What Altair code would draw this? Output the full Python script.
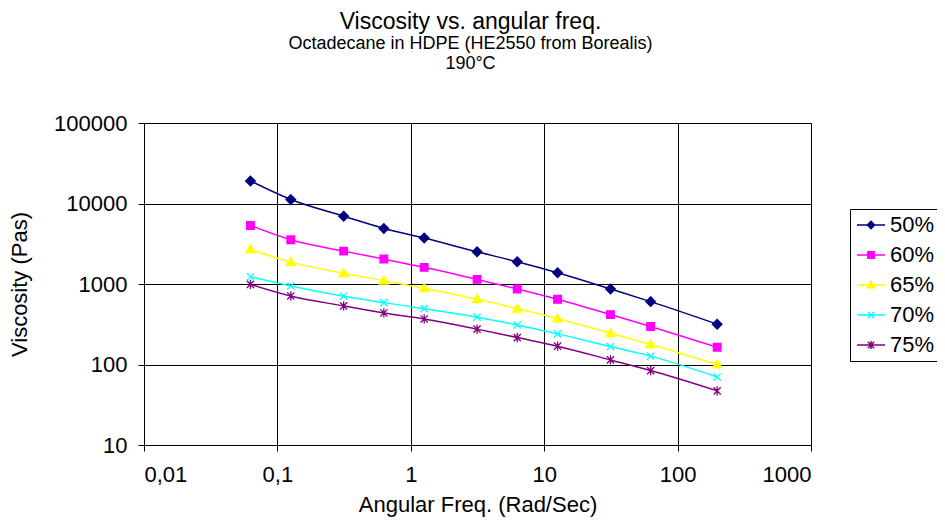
import altair as alt
import pandas as pd

# ---- data ----
freq = [0.0628, 0.126, 0.314, 0.628, 1.26, 3.14, 6.28, 12.6, 31.4, 62.8, 198]
series = ["50%", "60%", "65%", "70%", "75%"]
visc_50 = [19050, 11200, 6960, 4900, 3720, 2510, 1890, 1380, 867, 604, 317]
visc_60 = [5340, 3540, 2560, 2040, 1610, 1140, 867, 646, 417, 296, 164]
visc_65 = [2690, 1870, 1360, 1100, 885, 646, 494, 372, 245, 177, 100]
visc_70 = [1230, 944, 705, 587, 494, 387, 310, 240, 167, 127, 70]
visc_75 = [991, 710, 534, 437, 368, 275, 216, 169, 114, 84, 47]
x_ticks = [0.01, 0.1, 1, 10, 100, 1000]
y_ticks = [10, 100, 1000, 10000, 100000]

colors = ["#000080", "#FF00FF", "#FFFF00", "#00FFFF", "#800080"]
marker_paths = [
    "M0,-1.2L1.2,0L0,1.2L-1.2,0Z",
    "M-0.95,-0.95L0.95,-0.95L0.95,0.95L-0.95,0.95Z",
    "M0,-1.15L1.15,0.85L-1.15,0.85Z",
    "M-0.9,-0.9L0.9,0.9M-0.9,0.9L0.9,-0.9",
    "M-0.9,-0.9L0.9,0.9M-0.9,0.9L0.9,-0.9M0,-1.15L0,1.15",
]
legend_paths = [
    "M-2.25,0L4.75,0M1.25,-0.9L2.15,0L1.25,0.9L0.35,0Z",
    "M-2.25,0L4.75,0M0.45,-0.8L2.05,-0.8L2.05,0.8L0.45,0.8Z",
    "M-2.25,0L4.75,0M1.25,-1L2.2,0.7L0.3,0.7Z",
    "M-2.25,0L4.75,0M0.45,-0.8L2.05,0.8M0.45,0.8L2.05,-0.8",
    "M-2.25,0L4.75,0M0.45,-0.8L2.05,0.8M0.45,0.8L2.05,-0.8M1.25,-1L1.25,1",
]

rows = []
for s, vals in zip(series, [visc_50, visc_60, visc_65, visc_70, visc_75]):
    for f, v in zip(freq, vals):
        rows.append({"freq": f, "visc": v, "series": s})
df = pd.DataFrame(rows)

FONT = "Liberation Sans"

x_enc = alt.X(
    "freq:Q",
    scale=alt.Scale(type="log", domain=[0.01, 1000], nice=False),
    axis=alt.Axis(
        values=x_ticks,
        title="Angular Freq. (Rad/Sec)",
        labelExpr="replace(toString(datum.value), '.', ',')",
    ),
)
y_enc = alt.Y(
    "visc:Q",
    scale=alt.Scale(type="log", domain=[10, 100000], nice=False),
    axis=alt.Axis(values=y_ticks, title="Viscosity (Pas)", format="d"),
)

col_scale = alt.Scale(domain=series, range=colors)

lines = alt.Chart(df).mark_line(strokeWidth=1.5, interpolate="monotone").encode(
    x=x_enc,
    y=y_enc,
    stroke=alt.Stroke("series:N", scale=col_scale, legend=None),
    detail="series:N",
)

points = alt.Chart(df).mark_point(filled=True, size=64, strokeWidth=1.3, opacity=1).encode(
    x=x_enc,
    y=y_enc,
    fill=alt.Fill("series:N", scale=col_scale, legend=None),
    stroke=alt.Stroke("series:N", scale=col_scale, legend=None),
    shape=alt.Shape("series:N", scale=alt.Scale(domain=series, range=marker_paths), legend=None),
)

leg = dict(
    title=None,
    orient="none",
    legendX=706,
    legendY=86,
    symbolSize=64,
    symbolStrokeWidth=1.5,
    labelOffset=13,
    labelFontSize=22,
    labelFont=FONT,
    labelColor="black",
    strokeColor="black",
    fillColor="white",
    padding=5,
    rowPadding=8,
)

legend_layer = alt.Chart(df).transform_filter("false").mark_point(filled=True, opacity=1).encode(
    fill=alt.Fill("series:N", scale=col_scale, legend=alt.Legend(**leg)),
    stroke=alt.Stroke("series:N", scale=col_scale, legend=alt.Legend(**leg)),
    shape=alt.Shape("series:N", scale=alt.Scale(domain=series, range=legend_paths), legend=alt.Legend(**leg)),
)

chart = (
    alt.layer(lines, points, legend_layer)
    .resolve_scale(fill="independent", stroke="independent", shape="independent")
    .properties(
        width=667,
        height=322,
        autosize=alt.AutoSizeParams(type="none"),
        padding={"left": 136, "top": 115, "right": 126, "bottom": 72},
        title=alt.Title(
            "Viscosity vs. angular freq.",
            subtitle=["Octadecane in HDPE (HE2550 from Borealis)", "190°C"],
            anchor="middle",
            frame="group",
            dx=-7,
            offset=39,
            font=FONT,
            fontSize=23,
            fontWeight="normal",
            color="black",
            subtitleFont=FONT,
            subtitleFontSize=18,
            subtitleColor="black",
            subtitlePadding=1,
        ),
    )
    .configure_view(stroke="black", strokeWidth=1)
    .configure_axis(
        labelFont=FONT,
        labelFontSize=22,
        labelColor="black",
        titleFont=FONT,
        titleFontSize=22,
        titleFontWeight="normal",
        titleColor="black",
        domainColor="black",
        tickColor="black",
        gridColor="black",
        gridWidth=1,
        grid=True,
        tickSize=6,
    )
    .configure_axisX(labelPadding=13, titlePadding=9)
    .configure_axisY(labelPadding=11, titlePadding=22)
)

chart.save("out.html", embed_options={"renderer": "svg", "actions": False})
